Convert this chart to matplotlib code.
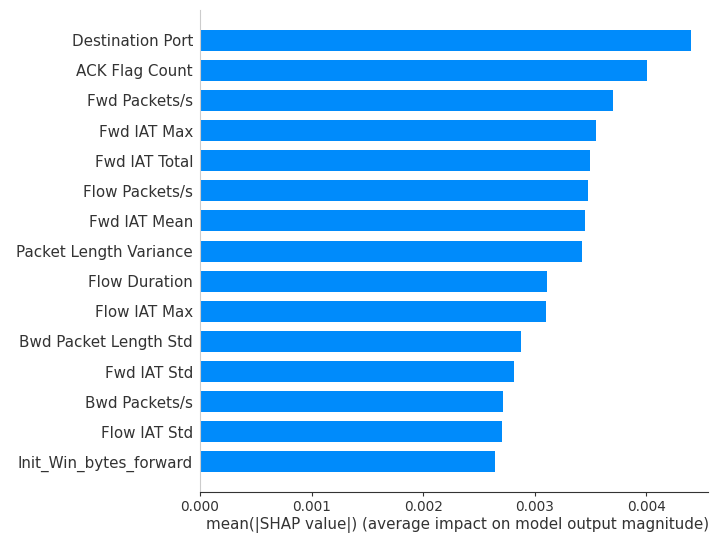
import matplotlib.pyplot as plt

# mean |SHAP| per feature, top to bottom
features = [
    "Destination Port", "ACK Flag Count", "Fwd Packets/s", "Fwd IAT Max",
    "Fwd IAT Total", "Flow Packets/s", "Fwd IAT Mean", "Packet Length Variance",
    "Flow Duration", "Flow IAT Max", "Bwd Packet Length Std", "Fwd IAT Std",
    "Bwd Packets/s", "Flow IAT Std", "Init_Win_bytes_forward",
]
importance = [
    0.00440, 0.00401, 0.00370, 0.003545, 0.003495, 0.00348, 0.00345, 0.003425,
    0.00311, 0.00310, 0.00288, 0.00281, 0.00272, 0.00271, 0.00264,
]

axis_color = "#333333"
n = len(features)
y_pos = list(range(n))[::-1]

fig = plt.figure(figsize=(7.1, 5.34), dpi=100)
ax = fig.add_axes([0.2817, 0.0787, 0.715, 0.9023])

ax.barh(y_pos, importance, 0.7, align="center", color="#008bfb")
ax.set_yticks(y_pos)
ax.set_yticklabels(features, fontsize=10.9, color=axis_color)
ax.set_ylim(-1, n)
ax.set_xlim(0, 0.00455)
ax.set_xticks([0, 0.001, 0.002, 0.003, 0.004])
ax.set_xticklabels(["0.000", "0.001", "0.002", "0.003", "0.004"])

ax.xaxis.set_ticks_position("bottom")
ax.yaxis.set_ticks_position("none")
ax.spines["right"].set_visible(False)
ax.spines["top"].set_visible(False)
ax.spines["left"].set_color("#cccccc")
ax.spines["bottom"].set_color(axis_color)
ax.tick_params(axis="y", pad=1.5)
ax.tick_params(axis="x", colors=axis_color, labelsize=9.8, length=3, pad=3)
ax.set_xlabel("mean(|SHAP value|) (average impact on model output magnitude)",
              fontsize=10.9, color=axis_color)
ax.xaxis.set_label_coords(0.507, -0.051)

fig.savefig("out.png", dpi=100)
